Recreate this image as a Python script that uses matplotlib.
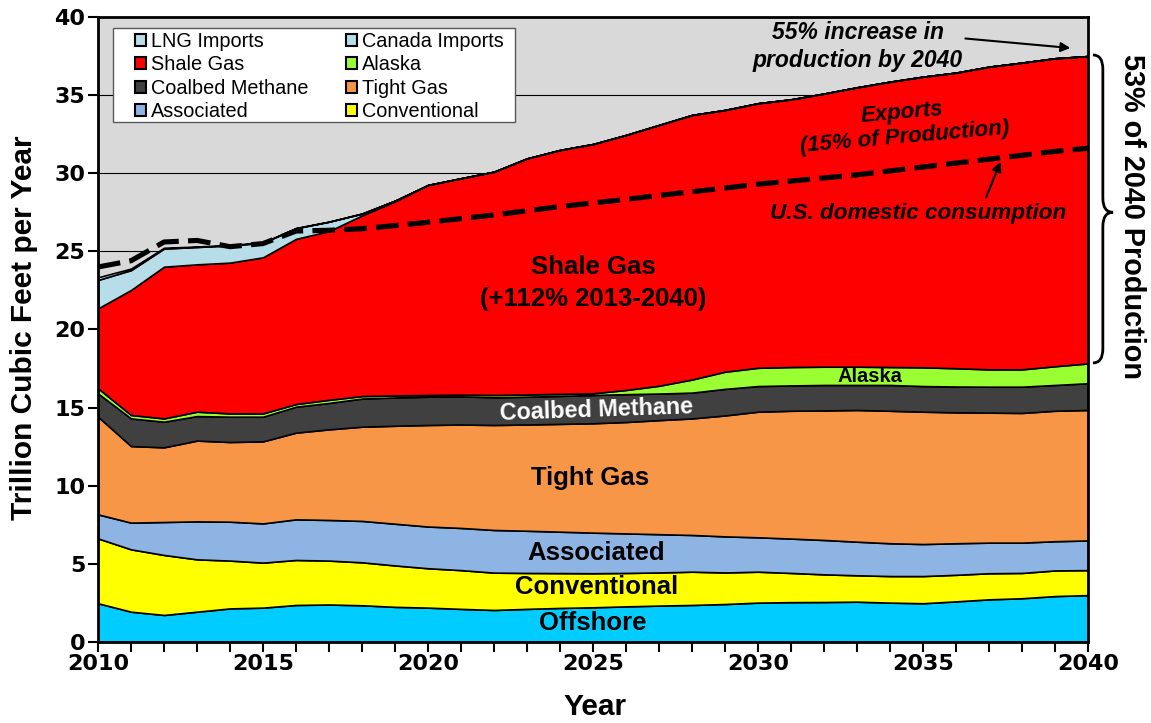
import numpy as np
import matplotlib
matplotlib.use('Agg')
import matplotlib.pyplot as plt
from matplotlib.path import Path
from matplotlib.patches import PathPatch, Patch, Rectangle
import matplotlib.transforms as mtransforms

# ---------------- data ----------------
years = list(range(2010, 2041))

# cumulative tops of the stacked domestic production layers (Tcf/yr)
offshore_top = [2.48, 1.94, 1.73, 1.94, 2.15, 2.20, 2.37, 2.40, 2.35, 2.25, 2.20, 2.12, 2.05, 2.12, 2.18, 2.22,
                2.28, 2.33, 2.37, 2.43, 2.52, 2.55, 2.56, 2.58, 2.52, 2.48, 2.60, 2.73, 2.80, 2.94, 3.00]
conventional_top = [6.63, 5.93, 5.57, 5.29, 5.21, 5.08, 5.25, 5.21, 5.10, 4.90, 4.72, 4.60, 4.44, 4.42, 4.41, 4.40,
                    4.42, 4.45, 4.50, 4.45, 4.50, 4.42, 4.33, 4.27, 4.22, 4.22, 4.30, 4.40, 4.42, 4.58, 4.60]
associated_top = [8.17, 7.64, 7.68, 7.72, 7.70, 7.59, 7.85, 7.81, 7.75, 7.57, 7.39, 7.30, 7.17, 7.12, 7.06, 7.00,
                  6.95, 6.90, 6.85, 6.76, 6.70, 6.62, 6.53, 6.42, 6.32, 6.27, 6.32, 6.36, 6.36, 6.45, 6.50]
tight_top = [14.42, 12.54, 12.46, 12.89, 12.80, 12.84, 13.40, 13.61, 13.78, 13.84, 13.89, 13.92, 13.89, 13.92, 13.96,
             14.00, 14.08, 14.20, 14.31, 14.50, 14.74, 14.80, 14.82, 14.85, 14.80, 14.74, 14.70, 14.68, 14.66, 14.80, 14.85]
coalbed_top = [15.91, 14.31, 14.10, 14.46, 14.42, 14.42, 15.06, 15.30, 15.58, 15.65, 15.70, 15.72, 15.66, 15.70, 15.75,
               15.81, 15.86, 15.90, 15.96, 16.20, 16.38, 16.42, 16.45, 16.45, 16.45, 16.38, 16.35, 16.34, 16.34, 16.45, 16.56]
alaska_top = [16.24, 14.53, 14.31, 14.74, 14.63, 14.63, 15.23, 15.50, 15.74, 15.78, 15.81, 15.83, 15.81, 15.84, 15.88,
              15.92, 16.13, 16.40, 16.80, 17.30, 17.55, 17.60, 17.62, 17.62, 17.60, 17.58, 17.52, 17.45, 17.45, 17.65, 17.83]
shale_top = [21.35, 22.53, 24.02, 24.17, 24.28, 24.62, 25.80, 26.30, 27.30, 28.20, 29.25, 29.68, 30.10, 30.95, 31.49,
             31.87, 32.45, 33.09, 33.73, 34.05, 34.48, 34.73, 35.10, 35.50, 35.86, 36.18, 36.44, 36.82, 37.08, 37.36, 37.50]
# imports (layer thickness)
canada_imports = [1.82, 1.27, 1.16, 1.11, 1.10, 0.93, 0.68, 0.60, 0.12, 0.05] + [0.0] * 21
lng_imports = [0.17, 0.10, 0.05, 0.03, 0.03, 0.02, 0.02] + [0.0] * 24

consumption = [24.0, 24.4, 25.6, 25.7, 25.3, 25.5, 26.3, 26.35, 26.45, 26.65, 26.86, 27.1, 27.33, 27.6, 27.87, 28.1,
               28.33, 28.58, 28.82, 29.05, 29.3, 29.5, 29.7, 29.9, 30.15, 30.4, 30.65, 30.9, 31.15, 31.4, 31.6]

layer_names = ['Offshore', 'Conventional', 'Associated', 'Tight Gas', 'Coalbed Methane', 'Alaska',
               'Shale Gas', 'Canada Imports', 'LNG Imports']
layer_colors = ['#00CCFF', '#FFFF00', '#8EB4E3', '#F79646', '#404040', '#99FF33',
                '#FF0000', '#B7DEE8', '#B7DEE8']
legend_order = ['LNG Imports', 'Shale Gas', 'Coalbed Methane', 'Associated',
                'Canada Imports', 'Alaska', 'Tight Gas', 'Conventional']

# ---------------- figure ----------------
fig = plt.figure(figsize=(11.51, 7.23), dpi=100)
ax = fig.add_axes([98 / 1151, 81 / 723, 990 / 1151, 625 / 723])
ax.set_facecolor('#D9D9D9')

tops = np.array([offshore_top, conventional_top, associated_top, tight_top, coalbed_top, alaska_top, shale_top])
layers = np.vstack([tops[:1], np.diff(tops, axis=0), [canada_imports], [lng_imports]])
ax.stackplot(years, layers, colors=layer_colors, edgecolor='black', linewidth=1.2, zorder=2)

ax.plot(years, consumption, color='black', lw=3.7, dashes=(4.4, 1.8), dash_capstyle='butt', zorder=4)

ax.set_xlim(2010, 2040)
ax.set_ylim(0, 40)
ax.set_xticks(range(2010, 2041, 5))
ax.set_xticks(range(2010, 2041), minor=True)
ax.set_yticks(range(0, 41, 5))
ax.yaxis.grid(True, color='black', lw=0.8)
ax.set_axisbelow(True)
ax.tick_params(axis='both', which='both', direction='out', width=1.5, length=7, pad=2)
for lab in ax.get_xticklabels() + ax.get_yticklabels():
    lab.set_family('DejaVu Sans')
    lab.set_fontweight('bold')
    lab.set_fontsize(16)
for sp in ax.spines.values():
    sp.set_linewidth(2)
    sp.set_zorder(6)

ax.set_ylabel('Trillion Cubic Feet per Year', fontsize=21.5, fontweight='bold', family='Liberation Sans')
ax.set_xlabel('Year', fontsize=21.5, fontweight='bold', family='Liberation Sans')
ax.yaxis.set_label_coords(-0.0605, 0.503)
ax.xaxis.set_label_coords(0.502, -0.082)

# legend with white box
ax.add_patch(Rectangle((0.0152, 0.832), 0.406, 0.1504, transform=ax.transAxes, facecolor='white',
                       edgecolor='#595959', lw=1.0, zorder=7))
color_of = dict(zip(layer_names, layer_colors))
handles = [Patch(facecolor=color_of[n], edgecolor='black', lw=1.5) for n in legend_order]
leg = ax.legend(handles, legend_order, ncol=2, loc='upper left', bbox_to_anchor=(0.0374, 0.9765),
                frameon=False, prop={'family': 'Liberation Sans', 'size': 14.3}, handlelength=0.55,
                handleheight=0.55, handletextpad=0.26, labelspacing=0.23, columnspacing=1.9,
                borderpad=0, borderaxespad=0)
leg.set_zorder(8)

# in-chart labels
lab_font = dict(family='Liberation Sans', fontweight='bold', ha='center', va='center', zorder=5)
ax.text(2025, 24.0, 'Shale Gas', fontsize=18.5, **lab_font)
ax.text(2025, 21.95, '(+112% 2013-2040)', fontsize=18.5, **lab_font)
ax.text(2024.9, 10.5, 'Tight Gas', fontsize=18.5, **lab_font)
ax.text(2025.1, 5.7, 'Associated', fontsize=18.5, **lab_font)
ax.text(2025.1, 3.52, 'Conventional', fontsize=18.5, **lab_font)
ax.text(2025, 1.22, 'Offshore', fontsize=18.5, **lab_font)
ax.text(2025.1, 14.85, 'Coalbed Methane', fontsize=16.8, color='white', rotation=2, **lab_font)
ax.text(2033.4, 17.02, 'Alaska', fontsize=14.5, **lab_font)

it_font = dict(family='Liberation Sans', fontweight='bold', style='italic', ha='center', va='center', zorder=5)
ax.text(2034.35, 33.85, 'Exports', fontsize=16, rotation=5, rotation_mode='anchor', **it_font)
ax.text(2034.45, 32.3, '(15% of Production)', fontsize=16, rotation=5, rotation_mode='anchor', **it_font)
ax.text(2034.86, 27.43, 'U.S. domestic consumption', fontsize=16.2, **it_font)
ax.text(2033.03, 38.98, '55% increase in', fontsize=16.5, **it_font)
ax.text(2033.03, 37.22, 'production by 2040', fontsize=16.5, **it_font)

ax.annotate('', xy=(2037.38, 30.9), xytext=(2036.88, 28.29),
            arrowprops=dict(arrowstyle='-|>', color='black', lw=1.5, mutation_scale=14), zorder=6)
ax.annotate('', xy=(2039.55, 38.0), xytext=(2036.2, 38.64),
            arrowprops=dict(arrowstyle='-|>', color='black', lw=1.5, mutation_scale=14), zorder=6)

# right brace
trans = mtransforms.blended_transform_factory(ax.transAxes, ax.transData)
x0, x1, x2 = 1.005, 1.015, 1.0253
ytop, ybot, ymid, r = 37.57, 17.86, 27.5, 0.9
verts = [(x0, ytop), (x1, ytop), (x1, ytop - r), (x1, ymid + r), (x1, ymid), (x2, ymid),
         (x1, ymid), (x1, ymid - r), (x1, ybot + r), (x1, ybot), (x0, ybot)]
codes = [Path.MOVETO, Path.CURVE3, Path.CURVE3, Path.LINETO, Path.CURVE3, Path.CURVE3,
         Path.CURVE3, Path.CURVE3, Path.LINETO, Path.CURVE3, Path.CURVE3]
ax.add_patch(PathPatch(Path(verts, codes), transform=trans, fill=False, lw=2, edgecolor='black',
                       clip_on=False, zorder=6))
ax.text(1.0445, 27.2, '53% of 2040 Production', transform=trans, rotation=-90, ha='center', va='center',
        fontsize=20.8, fontweight='bold', family='Liberation Sans', clip_on=False)

fig.savefig('out.png', dpi=100)
